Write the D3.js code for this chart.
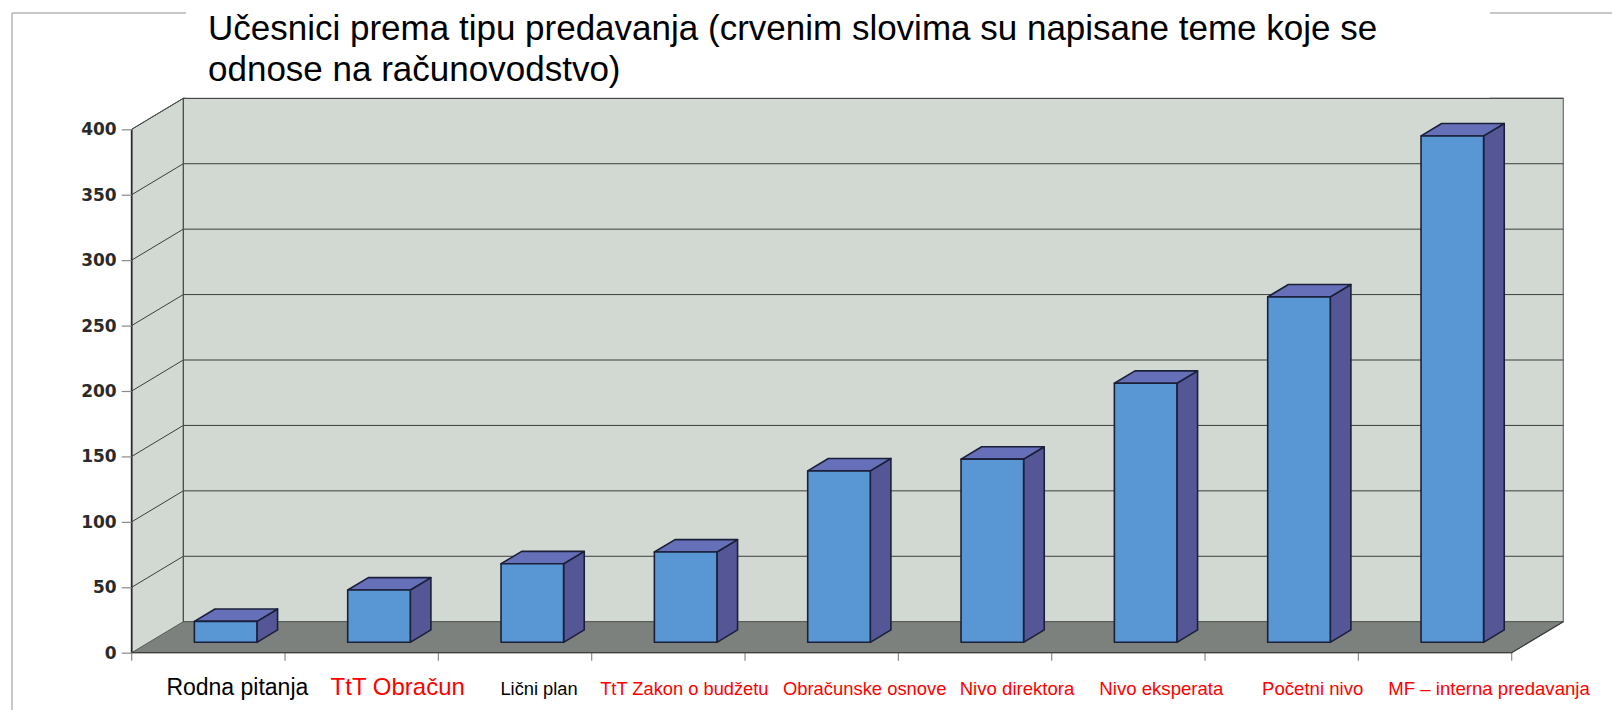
<!DOCTYPE html>
<html>
<head>
<meta charset="utf-8">
<script src="https://cdn.jsdelivr.net/npm/d3@7"></script>
<style>
  html, body { margin: 0; padding: 0; background: #ffffff; }
  svg { display: block; }
</style>
</head>
<body>
<svg id="chart" width="1612" height="710"></svg>
<script>
// ---------------- DATA ----------------
const categories = [
  "Rodna pitanja", "TtT Obračun", "Lični plan", "TtT Zakon o budžetu",
  "Obračunske osnove", "Nivo direktora", "Nivo eksperata", "Početni nivo",
  "MF – interna predavanja"
];
const values = [16, 40, 60, 69, 131, 140, 198, 264, 387];
const isAccounting = [false, true, false, true, true, true, true, true, true];
const yTicks = [0, 50, 100, 150, 200, 250, 300, 350, 400];
const titleLines = [
  "Učesnici prema tipu predavanja (crvenim slovima su napisane teme koje se",
  "odnose na računovodstvo)"
];

// ---------------- LAYOUT / STYLE ----------------
const X0 = 131.7, X1 = 1511.7;          // front floor edge
const Y0 = 652.7, YTOP = 129.3;         // value 0 and value 400 on the front axis
const DX = 51.6, DY = 31;               // depth offset
const F0 = 0.335, FD = 0.40;            // bar front depth fraction, bar depth fraction
const BAR_FRAC = 0.408;
const labelDx = [29, 36, 24, 16, 43, 42, 33, 31, 54];
const labelSize = [23, 24, 18.3, 18.3, 18.4, 18.6, 18.6, 18.6, 18.6];

const C = {
  wall: "#d2d8d2", floor: "#7c817d", grid: "#3c3f3c",
  front: "#5896d4", top: "#6570b8", side: "#545696", stroke: "#1b2038",
  frame: "#b4b4b4", tick: "#8a8a8a"
};

const svg = d3.select("#chart");
const x = d3.scaleBand().domain(categories).range([X0, X1]).paddingInner(0).paddingOuter(0);
const y = d3.scaleLinear().domain([0, 400]).range([Y0, YTOP]);
const line = d3.line();

// frame
svg.append("line").attr("x1", 12).attr("y1", 13).attr("x2", 1612).attr("y2", 13)
  .attr("stroke", C.frame).attr("stroke-width", 1.5);
svg.append("line").attr("x1", 12).attr("y1", 13).attr("x2", 12).attr("y2", 710)
  .attr("stroke", C.frame).attr("stroke-width", 1.5);

// back wall
const g = svg.append("g");
g.append("path").attr("d", line([[X0+DX, y(400)-DY],[X1+DX, y(400)-DY],[X1+DX, Y0-DY],[X0+DX, Y0-DY]]) + "Z")
  .attr("fill", C.wall).attr("stroke", "#6a6d6a").attr("stroke-width", 1.2);
// side wall
g.append("path").attr("d", line([[X0, y(400)],[X0+DX, y(400)-DY],[X0+DX, Y0-DY],[X0, Y0]]) + "Z")
  .attr("fill", C.wall).attr("stroke", "none");
// floor
g.append("path").attr("d", line([[X0, Y0],[X1, Y0],[X1+DX, Y0-DY],[X0+DX, Y0-DY]]) + "Z")
  .attr("fill", C.floor).attr("stroke", "#555955").attr("stroke-width", 1);

// gridlines
yTicks.filter(v => v > 0).forEach(v => {
  g.append("path").attr("d", line([[X0, y(v)],[X0+DX, y(v)-DY],[X1+DX, y(v)-DY]]))
    .attr("fill", "none").attr("stroke", C.grid).attr("stroke-width", 1);
});
// wall corner edges
g.append("line").attr("x1", X0+DX).attr("y1", y(400)-DY).attr("x2", X0+DX).attr("y2", Y0-DY)
  .attr("stroke", "#4a4d4a").attr("stroke-width", 1.3);
g.append("line").attr("x1", X0).attr("y1", y(400)).attr("x2", X0).attr("y2", Y0)
  .attr("stroke", "#2a2c2a").attr("stroke-width", 1.8);
g.append("line").attr("x1", X0).attr("y1", y(400)).attr("x2", X0+DX).attr("y2", y(400)-DY)
  .attr("stroke", "#4a4d4a").attr("stroke-width", 1);

// y axis (ticks + labels)
const yAxis = d3.axisLeft(y).tickValues(yTicks).tickSize(10).tickPadding(5).tickSizeOuter(0);
const ya = svg.append("g").attr("transform", `translate(${X0},0)`).call(yAxis);
ya.select(".domain").remove();
ya.selectAll(".tick line").attr("stroke", C.tick).attr("stroke-width", 1.2);
ya.selectAll(".tick text").attr("font-family", "DejaVu Sans, sans-serif")
  .attr("font-size", 17).attr("font-weight", "bold").attr("fill", "#2a2a2a");

// x ticks at category boundaries
const bounds = categories.map(c => x(c)).concat([X1]);
svg.append("g").selectAll("line").data(bounds).join("line")
  .attr("x1", d => d).attr("x2", d => d).attr("y1", Y0).attr("y2", Y0 + 8)
  .attr("stroke", C.tick).attr("stroke-width", 1.2);

// bars
const bw = x.bandwidth() * BAR_FRAC;
const bars = svg.append("g");
categories.forEach((c, i) => {
  const xl = x(c) + (x.bandwidth() - bw) / 2 + F0 * DX;
  const xr = xl + bw;
  const yt = y(values[i]) - F0 * DY;
  const yb = Y0 - F0 * DY;
  const ddx = FD * DX, ddy = FD * DY;
  const bg = bars.append("g").attr("stroke", C.stroke).attr("stroke-width", 1.6).attr("stroke-linejoin", "round");
  bg.append("path").attr("d", line([[xr, yt],[xr+ddx, yt-ddy],[xr+ddx, yb-ddy],[xr, yb]]) + "Z").attr("fill", C.side);
  bg.append("path").attr("d", line([[xl, yt],[xr, yt],[xr+ddx, yt-ddy],[xl+ddx, yt-ddy]]) + "Z").attr("fill", C.top);
  bg.append("rect").attr("x", xl).attr("y", yt).attr("width", bw).attr("height", yb - yt).attr("fill", C.front);
});

// floor front edge on top
svg.append("path").attr("d", line([[X0, Y0],[X1, Y0],[X1+DX, Y0-DY]]))
  .attr("fill", "none").attr("stroke", "#3c3f3c").attr("stroke-width", 1.2);

// category labels
svg.append("g").selectAll("text").data(categories).join("text")
  .attr("x", (d, i) => x(d) + x.bandwidth() / 2 + labelDx[i])
  .attr("y", 695)
  .attr("text-anchor", "middle")
  .attr("font-family", "Liberation Sans, Arial, sans-serif")
  .attr("font-size", (d, i) => labelSize[i])
  .attr("fill", (d, i) => isAccounting[i] ? "#ff0000" : "#000000")
  .text(d => d);

// title box (covers frame and wall top)
svg.append("rect").attr("x", 186).attr("y", 0).attr("width", 1490 - 186).attr("height", 97.5).attr("fill", "#ffffff");
svg.append("g").selectAll("text").data(titleLines).join("text")
  .attr("x", 208)
  .attr("y", (d, i) => 40 + i * 41)
  .attr("font-family", "Liberation Sans, Arial, sans-serif")
  .attr("font-size", 35)
  .attr("fill", "#000000")
  .text(d => d);
</script>
</body>
</html>
